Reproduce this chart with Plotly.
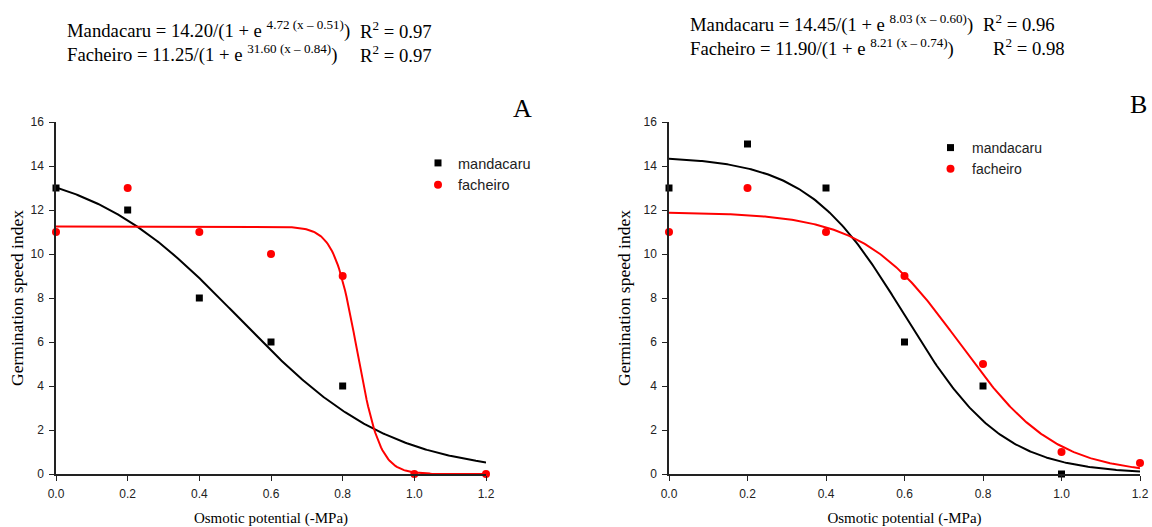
import numpy as np
import plotly.graph_objects as go

# ---- data ----
x_obs = [0.0, 0.2, 0.4, 0.6, 0.8, 1.0, 1.2]
a_mandacaru = [13, 12, 8, 6, 4, None, None]
a_facheiro = [11, 13, 11, 10, 9, 0, 0]
b_mandacaru = [13, 15, 13, 6, 4, 0, None]
b_facheiro = [11, 13, 11, 9, 5, 1, 0.5]

# fitted logistic parameters (a, b, x0): y = a / (1 + exp(b (x - x0)))
fit_a_mandacaru = [14.20, 4.72, 0.51]
fit_a_facheiro = [11.25, 31.60, 0.84]
fit_b_mandacaru = [14.45, 8.03, 0.60]
fit_b_facheiro = [11.90, 8.21, 0.74]

x_ticks = [0.0, 0.2, 0.4, 0.6, 0.8, 1.0, 1.2]
x_tick_labels = ["0.0", "0.2", "0.4", "0.6", "0.8", "1.0", "1.2"]
y_ticks = [0, 2, 4, 6, 8, 10, 12, 14, 16]

xs = np.linspace(0, 1.2, 300)


def logistic(p):
    a, b, x0 = p
    return a / (1 + np.exp(b * (xs - x0)))


W, H = 1152, 527
fig = go.Figure()

BLACK = "#000000"
RED = "#ff0000"

panels = [
    ("x", "y", "legend", a_mandacaru, a_facheiro, fit_a_mandacaru, fit_a_facheiro),
    ("x2", "y2", "legend2", b_mandacaru, b_facheiro, fit_b_mandacaru, fit_b_facheiro),
]
for xa, ya, lg, m, f, fm, ff in panels:
    fig.add_trace(go.Scatter(x=xs, y=logistic(fm), mode="lines", line=dict(color=BLACK, width=2),
                             xaxis=xa, yaxis=ya, showlegend=False, hoverinfo="skip", cliponaxis=False))
    fig.add_trace(go.Scatter(x=xs, y=logistic(ff), mode="lines", line=dict(color=RED, width=2),
                             xaxis=xa, yaxis=ya, showlegend=False, hoverinfo="skip", cliponaxis=False))
    fig.add_trace(go.Scatter(x=x_obs, y=m, mode="markers", name="mandacaru",
                             marker=dict(symbol="square", size=7, color=BLACK),
                             xaxis=xa, yaxis=ya, legend=lg, cliponaxis=False))
    fig.add_trace(go.Scatter(x=x_obs, y=f, mode="markers", name="facheiro",
                             marker=dict(symbol="circle", size=8, color=RED),
                             xaxis=xa, yaxis=ya, legend=lg, cliponaxis=False))

y0 = 1 - 474 / H
y1 = 1 - 122 / H

axis_common = dict(showline=True, linecolor="#222222", linewidth=1.5, ticks="outside",
                   ticklen=5, tickwidth=1.2, tickcolor="#222222", showgrid=False, zeroline=False,
                   automargin=False, ticklabelstandoff=3,
                   tickfont=dict(family="Liberation Sans, Arial", size=12, color="#222222"))

serif = "Liberation Serif, Times New Roman"
xtitle = dict(text="Osmotic potential (-MPa)", font=dict(family=serif, size=15, color=BLACK), standoff=14)
ytitle_a = dict(text="Germination speed index", font=dict(family=serif, size=17.5, color=BLACK), standoff=2)
ytitle_b = dict(text="Germination speed index", font=dict(family=serif, size=17.5, color=BLACK), standoff=8)

legend_font = dict(family="Liberation Sans, Arial", size=14.5, color="#222222")

fig.update_layout(
    width=W, height=H,
    margin=dict(l=0, r=0, t=0, b=0),
    paper_bgcolor="white", plot_bgcolor="white",
    xaxis=dict(domain=[56 / W, 486 / W], range=[0, 1.2], tickvals=x_ticks, ticktext=x_tick_labels,
               anchor="y", title=xtitle, **axis_common),
    yaxis=dict(domain=[y0, y1], range=[0, 16], tickvals=y_ticks, anchor="x", title=ytitle_a, **axis_common),
    xaxis2=dict(domain=[669 / W, 1140 / W], range=[0, 1.2], tickvals=x_ticks, ticktext=x_tick_labels,
                anchor="y2", title=xtitle, **axis_common),
    yaxis2=dict(domain=[y0, y1], range=[0, 16], tickvals=y_ticks, anchor="x2", title=ytitle_b, **axis_common),
    legend=dict(x=418 / W, y=1 - 147 / H, xanchor="left", yanchor="top", font=legend_font,
                bgcolor="rgba(0,0,0,0)", tracegroupgap=0, itemwidth=30),
    legend2=dict(x=929 / W, y=1 - 132 / H, xanchor="left", yanchor="top",
                 font=dict(family="Liberation Sans, Arial", size=14, color="#222222"),
                 bgcolor="rgba(0,0,0,0)", tracegroupgap=0, itemwidth=33),
    showlegend=True,
)

ann = [
    (65, 30, "Mandacaru = 14.20/(1 + e <sup>4.72 (x – 0.51)</sup>)"),
    (358, 30, "R<sup>2</sup> = 0.97"),
    (65, 54, "Facheiro = 11.25/(1 + e <sup>31.60 (x – 0.84)</sup>)"),
    (358, 54, "R<sup>2</sup> = 0.97"),
    (688, 23, "Mandacaru = 14.45/(1 + e <sup>8.03 (x – 0.60)</sup>)"),
    (981, 23, "R<sup>2</sup> = 0.96"),
    (688, 47, "Facheiro = 11.90/(1 + e <sup>8.21 (x – 0.74)</sup>)"),
    (991, 47, "R<sup>2</sup> = 0.98"),
]
for px, py, t in ann:
    fig.add_annotation(x=px / W, y=1 - py / H, xref="paper", yref="paper", text=t, showarrow=False,
                       xanchor="left", yanchor="middle", font=dict(family=serif, size=18.7, color=BLACK))

fig.add_annotation(x=522 / W, y=1 - 108 / H, xref="paper", yref="paper", text="A", showarrow=False,
                   xanchor="center", yanchor="middle", font=dict(family=serif, size=26, color=BLACK))
fig.add_annotation(x=1138 / W, y=1 - 105 / H, xref="paper", yref="paper", text="B", showarrow=False,
                   xanchor="center", yanchor="middle", font=dict(family=serif, size=26, color=BLACK))

fig.write_html("out.html", config={"displayModeBar": False},
               post_script="document.body.style.margin='0';document.body.style.padding='0';")
